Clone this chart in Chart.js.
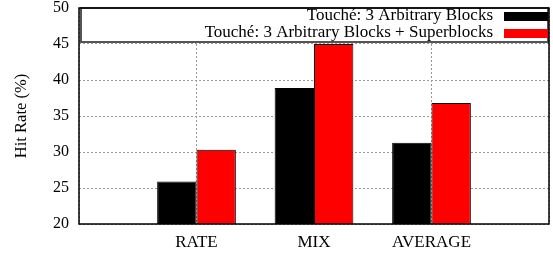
<!DOCTYPE html>
<html>
<head>
<meta charset="utf-8">
<script src="https://cdn.jsdelivr.net/npm/chart.js@4/dist/chart.umd.min.js"></script>
<style>
  html, body { margin: 0; padding: 0; background: #fff; }
  #wrap { width: 553px; height: 257px; }
</style>
</head>
<body>
<div id="wrap"><canvas id="myChart" width="553" height="257"></canvas></div>
<script>
// categorias (con huecos vacios en los extremos, como en la grafica original)
const categories = ['', 'RATE', 'MIX', 'AVERAGE', ''];
const seriesNames = ['Touché: 3 Arbitrary Blocks', 'Touché: 3 Arbitrary Blocks + Superblocks'];
const arbitraryBlocks = [null, 25.9, 38.9, 31.3, null];
const withSuperblocks = [null, 30.3, 45.0, 36.8, null];
const yTicks = [20, 25, 30, 35, 40, 45, 50];

const serif = '"Liberation Serif", "Times New Roman", serif';

// Marco completo y leyenda dentro del area de la grafica
const frameAndLegend = {
    id: 'frameAndLegend',
    afterDatasetsDraw(c) {
        const a = c.chartArea;
        const ctx = c.ctx;
        ctx.save();
        // leyenda
        const lx = a.left + 2, ly = a.top, lw = a.right - a.left - 3, lh = 34;
        ctx.fillStyle = '#fff';
        ctx.fillRect(lx, ly, lw, lh);
        ctx.strokeStyle = '#555';
        ctx.lineWidth = 2;
        ctx.strokeRect(lx, ly, lw, lh);
        ctx.font = '17px ' + serif;
        ctx.textAlign = 'right';
        ctx.textBaseline = 'middle';
        c.data.datasets.forEach((ds, i) => {
            const yy = ly + 8 + i * 17;
            ctx.fillStyle = '#000';
            ctx.fillText(ds.label, a.right - 56, yy);
            ctx.fillStyle = ds.backgroundColor;
            ctx.fillRect(a.right - 45, yy - 4, 44, 9);
        });
        // marco
        ctx.strokeStyle = '#000';
        ctx.lineWidth = 1.5;
        ctx.strokeRect(a.left, a.top, a.right - a.left, a.bottom - a.top);
        ctx.restore();
    }
};

const ctx = document.getElementById('myChart').getContext('2d');
const chart = new Chart(ctx, {
    type: 'bar',
    data: {
        labels: categories,
        datasets: [{
            label: seriesNames[0],
            data: arbitraryBlocks,
            backgroundColor: '#000000',
            borderColor: '#000000',
            borderWidth: 1
        }, {
            label: seriesNames[1],
            data: withSuperblocks,
            backgroundColor: '#ff0000',
            borderColor: '#000000',
            borderWidth: 1
        }]
    },
    options: {
        responsive: false,
        animation: false,
        layout: { padding: { left: 0, right: 4, top: 8, bottom: 0 } },
        datasets: { bar: { categoryPercentage: 0.67, barPercentage: 1.0 } },
        plugins: {
            legend: { display: false },
            tooltip: { enabled: false }
        },
        scales: {
            x: {
                offset: false,
                afterFit(s) { s.height = 33; s.paddingLeft = 0; s.paddingRight = 0; },
                grid: { offset: false, color: '#999', lineWidth: 1, drawTicks: false },
                border: { display: false, dash: [2, 2] },
                ticks: { color: '#000', font: { family: serif, size: 17 }, padding: 8, maxRotation: 0, autoSkip: false }
            },
            y: {
                min: 20,
                max: 50,
                afterFit(s) { s.width = 79; s.paddingTop = 0; s.paddingBottom = 0; },
                afterBuildTicks(s) { s.ticks = yTicks.map(v => ({ value: v })); },
                grid: { color: '#999', lineWidth: 1, drawTicks: false },
                border: { display: false, dash: [2, 2] },
                ticks: { color: '#000', font: { family: serif, size: 16 }, padding: 10 },
                title: { display: true, text: 'Hit Rate (%)', color: '#000', font: { family: serif, size: 16.5 }, padding: { top: 12, bottom: 4 } }
            }
        }
    },
    plugins: [frameAndLegend]
});
</script>
</body>
</html>
